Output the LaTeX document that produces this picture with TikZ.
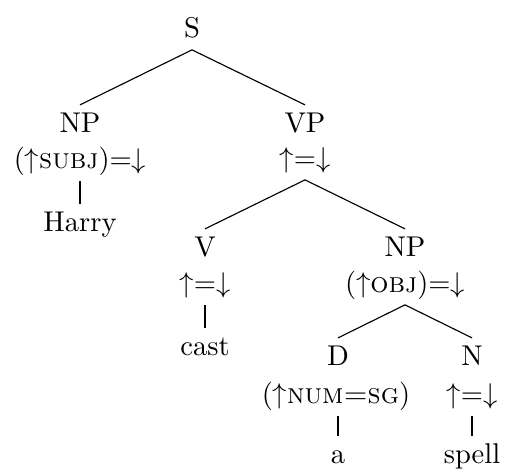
\documentclass[tikz,border=0pt]{standalone}
\begin{document}
\begin{tikzpicture}[x=0.35pt,y=-0.35pt,
  every node/.style={anchor=base,inner xsep=0pt,inner ysep=1.8pt,text height=7.5pt,text depth=2.5pt}]
\useasboundingbox (0,0) rectangle (505,471);
\node (S) at (192,37) {S};
\node (NPsubj) at (80,132) {NP};
\node (NPsubjf) at (80,168) {($\uparrow$\textsc{subj})=$\downarrow$};
\node (harry) at (80,231) {Harry};
\node (VP) at (305,132) {VP};
\node (VPf) at (305,167) {$\uparrow$=$\downarrow$};
\node (V) at (205,256) {V};
\node (Vf) at (205,292) {$\uparrow$=$\downarrow$};
\node (cast) at (205,355) {cast};
\node (NPobj) at (405,256) {NP};
\node (NPobjf) at (405,292) {($\uparrow$\textsc{obj})=$\downarrow$};
\node (D) at (338,365) {D};
\node (Df) at (336,403) {($\uparrow$\textsc{num=sg})};
\node (a) at (338,463) {a};
\node (N) at (472,365) {N};
\node (Nf) at (472,403) {$\uparrow$=$\downarrow$};
\node (spell) at (472,463) {spell};
\draw (S.south) -- (NPsubj.north);
\draw (S.south) -- (VP.north);
\draw (NPsubjf.south) -- (harry.north);
\draw (VPf.south) -- (V.north);
\draw (VPf.south) -- (NPobj.north);
\draw (Vf.south) -- (cast.north);
\draw (NPobjf.south) -- (D.north);
\draw (NPobjf.south) -- (N.north);
\draw (Df.south -| D) -- (a.north);
\draw (Nf.south) -- (spell.north);
\end{tikzpicture}
\end{document}
